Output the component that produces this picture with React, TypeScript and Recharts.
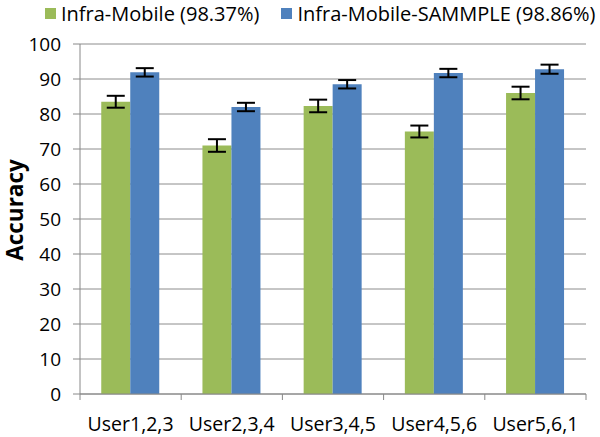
import React from "react";
import { BarChart, Bar, XAxis, YAxis, CartesianGrid, ErrorBar, Legend, Label } from "recharts";

const categories = ["User1,2,3", "User2,3,4", "User3,4,5", "User4,5,6", "User5,6,1"];
const mobile = [83.5, 71, 82.3, 75, 86];
const mobileErr = [1.7, 1.8, 1.8, 1.7, 1.8];
const sammple = [91.9, 82, 88.5, 91.7, 92.8];
const sammpleErr = [1.2, 1.2, 1.2, 1.2, 1.3];
const yTicks = [0, 10, 20, 30, 40, 50, 60, 70, 80, 90, 100];

const GREEN = "#9BBB59";
const BLUE = "#4F81BD";
const FONT = "'Open Sans', sans-serif";

const data = categories.map((name, i) => ({
  name,
  mobile: mobile[i],
  mobileErr: mobileErr[i],
  sammple: sammple[i],
  sammpleErr: sammpleErr[i],
}));

const legendItems = [
  { label: "Infra-Mobile (98.37%)", color: GREEN },
  { label: "Infra-Mobile-SAMMPLE (98.86%)", color: BLUE },
];

function LegendContent() {
  return (
    <div style={{ display: "flex", fontFamily: FONT, fontSize: 20, paddingLeft: 45, whiteSpace: "nowrap" }}>
      {legendItems.map((it, i) => (
        <div key={it.label} style={{ display: "flex", alignItems: "center", marginLeft: i === 0 ? 0 : 22 }}>
          <span style={{ width: 11, height: 11, background: it.color, marginRight: 5, display: "inline-block" }} />
          <span>{it.label}</span>
        </div>
      ))}
    </div>
  );
}

function XTick(props: any) {
  const { x, y, payload, index } = props;
  const half = payload.offset || 0;
  return (
    <g>
      <line x1={x - half} x2={x - half} y1={y - 8} y2={y - 2} stroke="#888" />
      {index === categories.length - 1 && (
        <line x1={x + half} x2={x + half} y1={y - 8} y2={y - 2} stroke="#888" />
      )}
      <text x={x} y={y + 29} textAnchor="middle" fontFamily={FONT} fontSize={19.5} fill="#000">
        {payload.value}
      </text>
    </g>
  );
}

export default function App() {
  return (
    <div style={{ position: "absolute", left: 0, top: 0, background: "#fff" }}>
      <BarChart
        width={600}
        height={437}
        data={data}
        margin={{ top: 44, right: 14, bottom: 0, left: 0 }}
        barCategoryGap="21%"
        barGap={0}
      >
        <CartesianGrid vertical={false} stroke="#8c8c8c" />
        <XAxis
          dataKey="name"
          height={43}
          axisLine={{ stroke: "#888" }}
          tickLine={false}
          tick={<XTick />}
          interval={0}
        />
        <YAxis
          width={80}
          domain={[0, 100]}
          ticks={yTicks}
          interval={0}
          axisLine={{ stroke: "#888" }}
          tickLine={{ stroke: "#888" }}
          tickSize={7}
          tickMargin={12}
          tick={{ fontFamily: FONT, fontSize: 19, fill: "#000" }}
        >
          <Label
            content={() => (
              <text
                x={0}
                y={0}
                transform="translate(23,210) rotate(-90)"
                textAnchor="middle"
                fontFamily={FONT}
                fontWeight="bold"
                fontSize={22.5}
                fill="#000"
              >
                Accuracy
              </text>
            )}
          />
        </YAxis>
        <Legend
          layout="horizontal"
          verticalAlign="middle"
          align="center"
          wrapperStyle={{ top: 0, left: 0, width: 600 }}
          content={<LegendContent />}
        />
        <Bar dataKey="mobile" fill={GREEN} isAnimationActive={false}>
          <ErrorBar dataKey="mobileErr" width={9} strokeWidth={2} stroke="#000" />
        </Bar>
        <Bar dataKey="sammple" fill={BLUE} isAnimationActive={false}>
          <ErrorBar dataKey="sammpleErr" width={9} strokeWidth={2} stroke="#000" />
        </Bar>
      </BarChart>
    </div>
  );
}
